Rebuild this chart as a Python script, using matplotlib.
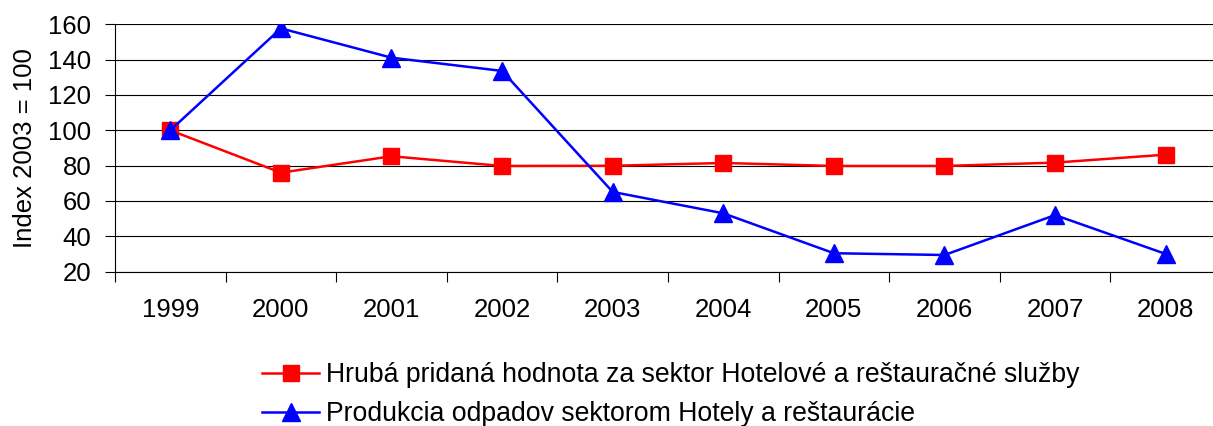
import matplotlib.pyplot as plt
import numpy as np

plt.rcParams["font.family"] = ["Liberation Sans", "DejaVu Sans"]

years = ["1999", "2000", "2001", "2002", "2003", "2004", "2005", "2006", "2007", "2008"]
gva_index = [100, 76, 85.3, 79.8, 79.9, 81.5, 79.8, 79.8, 81.7, 86.2]
waste_index = [100, 157.7, 141.1, 133.6, 65.1, 53, 30.4, 29.4, 52, 30]

fs = 18.5

fig = plt.figure(figsize=(12.13, 4.26), dpi=100)
ax = fig.add_axes([115 / 1213, 1 - 271.6 / 426, 1106 / 1213, 247.3 / 426])

x = np.arange(len(years))
ax.plot(x, gva_index, color="#ff0000", lw=1.8, marker="s", ms=11.5,
        label="Hrubá pridaná hodnota za sektor Hotelové a reštauračné služby")
ax.plot(x, waste_index, color="#0000ff", lw=1.8, marker="^", ms=12.5,
        label="Produkcia odpadov sektorom Hotely a reštaurácie")

ax.set_xlim(-0.5, len(years) - 0.5)
ax.set_ylim(20, 160)
ax.set_yticks(np.arange(20, 161, 20))
ax.set_xticks(x)
ax.set_xticklabels(years)
ax.set_xticks(np.arange(-0.5, len(years), 1), minor=True)
ax.tick_params(axis="x", which="major", length=0, pad=19, labelsize=fs)
ax.tick_params(axis="x", which="minor", length=7, width=0.8, color="black")
ax.tick_params(axis="y", length=7, width=0.8, labelsize=fs, pad=10)
ax.yaxis.grid(True, color="black", lw=0.8)
ax.set_axisbelow(True)
for side in ["top", "right"]:
    ax.spines[side].set_visible(False)
for side in ["left", "bottom"]:
    ax.spines[side].set_linewidth(0.8)
ax.set_ylabel("Index 2003 = 100", fontsize=fs, labelpad=8)

fig.legend(loc="upper left", bbox_to_anchor=(262 / 1213, 1 - 362 / 426),
           frameon=False, fontsize=19.2, handlelength=2.15, handletextpad=0.25,
           labelspacing=0.5, borderpad=0, borderaxespad=0)

fig.savefig("out.png", dpi=100)
